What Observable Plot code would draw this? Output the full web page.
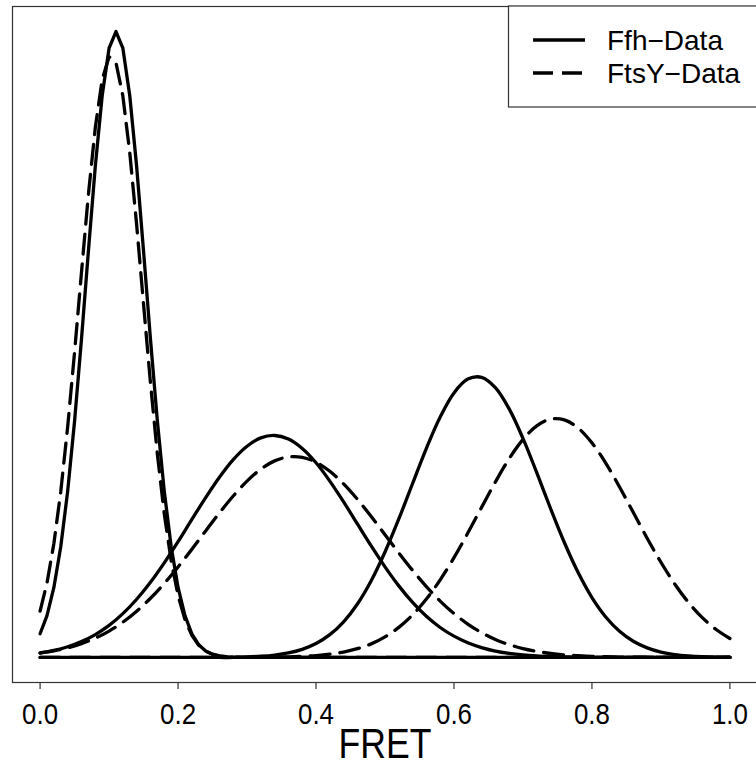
<!DOCTYPE html>
<html><head><meta charset="utf-8">
<script src="https://cdn.jsdelivr.net/npm/d3@7"></script>
<script src="https://cdn.jsdelivr.net/npm/@observablehq/plot@0.6"></script>
<style>
body{margin:0;background:#fff;}
#chart svg{display:block;}
</style></head><body><div id="chart"></div>
<script>
// FRET grids
const xNarrow = [0,0.01,0.02,0.03,0.04,0.05,0.06,0.07,0.08,0.09,0.10,0.11,0.12,0.13,0.14,0.15,0.16,0.17,0.18,0.19,0.20,0.21,0.22,0.23,0.24,0.25,0.26,0.27,0.28,0.30,1.00];
const xBroad = [0,0.02,0.04,0.06,0.08,0.10,0.12,0.14,0.16,0.18,0.20,0.22,0.24,0.26,0.28,0.30,0.32,0.34,0.36,0.38,0.40,0.42,0.44,0.46,0.48,0.50,0.52,0.54,0.56,0.58,0.60,0.62,0.64,0.66,0.68,0.70,0.72,0.74,0.76,0.78,0.80,0.82,0.84,0.86,0.88,0.90,0.92,0.94,0.96,0.98,1.00];

// Ffh-Data components (solid)
const ffhLow = [23.7,41.9,70.0,110.9,166.4,236.5,318.4,406.2,490.8,561.8,609.3,626,609.3,561.8,490.8,406.2,318.4,236.5,166.4,110.9,70.0,41.9,23.7,12.7,6.5,3.1,1.4,0.6,0.2,0,0];
const ffhMid = [4.5,7.0,10.7,15.9,22.9,32.1,43.8,58.2,75.2,94.6,115.8,138.0,159.9,180.3,197.9,211.3,219.6,222.0,218.4,209.0,194.7,176.4,155.6,133.5,111.5,90.6,71.6,55.1,41.2,30.0,21.3,14.7,9.9,6.4,4.1,2.5,1.5,0.9,0.5,0.3,0.1,0,0,0,0,0,0,0,0,0,0];
const ffhHigh = [0,0,0,0,0,0,0,0,0,0,0,0,0,0,0,0.6,1.2,2.4,4.5,8.1,13.9,22.8,35.7,53.5,76.8,105.5,138.5,174.0,209.2,240.5,264.6,278.4,280.2,269.9,248.6,219.1,184.8,149.0,115.0,84.9,59.9,40.5,26.2,16.2,9.6,5.4,2.9,1.5,0.7,0.3,0.2];

// FtsY-Data components (dashed)
const ftsyLow = [46.4,74.5,114.0,166.2,230.8,305.5,385.2,462.8,529.8,577.9,600.7,594.9,561.4,504.8,432.5,353.1,274.6,203.5,143.7,96.7,62.0,37.9,22.1,12.2,6.5,3.3,1.6,0.7,0.3,0,0];
const ftsyMid = [4.4,6.6,9.6,13.8,19.3,26.4,35.3,46.3,59.2,74.0,90.5,108.2,126.5,144.6,161.5,176.4,188.3,196.6,200.6,200.2,195.3,186.2,173.6,158.2,141.0,122.8,104.6,87.1,70.9,56.4,43.9,33.4,24.8,18.0,12.8,8.9,6.1,4.0,2.6,1.7,1.0,0.7,0.4,0.3,0.2,0.1,0,0,0,0,0];
const ftsyHigh = [0,0,0,0,0,0,0,0,0,0,0,0,0,0,0,0.1,0.2,0.3,0.6,1.1,1.9,3.3,5.4,8.8,13.6,20.6,30.1,42.6,58.4,77.6,99.8,124.4,150.1,175.5,198.8,218.0,231.6,238.4,237.6,229.4,214.6,194.4,170.5,145.0,119.3,95.2,73.5,55.0,39.8,28.0,19.0];

const xTicks = [0,0.2,0.4,0.6,0.8,1.0];
const legendLabels = ["Ffh\u2212Data","FtsY\u2212Data"];
const xLabel = "FRET";

const toRows = (xs, ys) => xs.map((x,i) => ({x, y: ys[i]}));
const yMax = d3.max([...ffhLow, ...ffhMid, ...ffhHigh, ...ftsyLow, ...ftsyMid, ...ftsyHigh]);
const dash = "20,10";
const lw = 3.3;

const plot = Plot.plot({
  width: 756, height: 766,
  marginLeft: 12, marginRight: -1, marginTop: 6, marginBottom: 84,
  x: {domain: [-0.04, 1.04]},
  y: {domain: [-0.04*yMax, 1.04*yMax], axis: null},
  style: {fontFamily: "'Liberation Sans', Arial, sans-serif", background: "white", color: "black"},
  marks: [
    Plot.frame({stroke: "#333", strokeWidth: 1.2}),
    Plot.axisX({ticks: xTicks, tickSize: 7, tickPadding: 13, fontSize: 30, tickFormat: d => d.toFixed(1), label: null, stroke: "#333", strokeWidth: 1.2}),
    Plot.line(toRows(xNarrow, ffhLow), {x: "x", y: "y", stroke: "black", strokeWidth: lw}),
    Plot.line(toRows(xNarrow, ftsyLow), {x: "x", y: "y", stroke: "black", strokeWidth: lw, strokeDasharray: dash}),
    Plot.line(toRows(xBroad, ffhMid), {x: "x", y: "y", stroke: "black", strokeWidth: lw, curve: "catmull-rom"}),
    Plot.line(toRows(xBroad, ftsyMid), {x: "x", y: "y", stroke: "black", strokeWidth: lw, curve: "catmull-rom", strokeDasharray: dash}),
    Plot.line(toRows(xBroad, ffhHigh), {x: "x", y: "y", stroke: "black", strokeWidth: lw, curve: "catmull-rom"}),
    Plot.line(toRows(xBroad, ftsyHigh), {x: "x", y: "y", stroke: "black", strokeWidth: lw, curve: "catmull-rom", strokeDasharray: dash}),
    Plot.text([xLabel], {text: d => d, frameAnchor: "bottom", dy: 62, fontSize: 42, lineAnchor: "middle"})
  ]
});

document.getElementById("chart").appendChild(plot);
const svg = d3.select(plot);

// narrow the axis texts (the reference uses a condensed sans)
svg.selectAll("text").each(function() {
  const t = this.textContent.trim();
  if (xTicks.map(d => d.toFixed(1)).includes(t)) {
    this.setAttribute("textLength", "36");
    this.setAttribute("lengthAdjust", "spacingAndGlyphs");
  } else if (t === xLabel) {
    this.setAttribute("textLength", "93");
    this.setAttribute("lengthAdjust", "spacingAndGlyphs");
  }
});

// legend (top-right, inside the plot box)
const lg = svg.append("g").attr("font-family", "'Liberation Sans', Arial, sans-serif").attr("text-anchor", "start");
lg.append("rect").attr("x", 508.5).attr("y", 6).attr("width", 260).attr("height", 101)
  .attr("fill", "white").attr("stroke", "#333").attr("stroke-width", 1.2);
const rowsY = [40, 73];
legendLabels.forEach((t, i) => {
  lg.append("line").attr("x1", 533).attr("x2", 585).attr("y1", rowsY[i]).attr("y2", rowsY[i])
    .attr("stroke", "black").attr("stroke-width", lw)
    .attr("stroke-dasharray", i === 1 ? "20,9" : null);
  lg.append("text").attr("x", 607).attr("y", rowsY[i] + 10).attr("font-size", 28)
    .attr("fill", "black").attr("text-anchor", "start").text(t);
});
</script></body></html>
